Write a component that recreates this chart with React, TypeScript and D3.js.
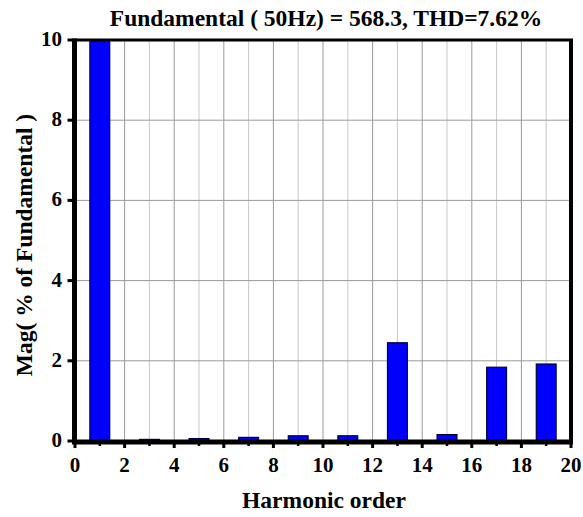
import React from "react";
import * as d3 from "d3";

const harmonics = [1, 3, 5, 7, 9, 11, 13, 15, 17, 19];
const magnitudes = [100, 0.04, 0.06, 0.09, 0.13, 0.13, 2.45, 0.16, 1.84, 1.92];
const xTicks = [0, 2, 4, 6, 8, 10, 12, 14, 16, 18, 20];
const xMinorTicks = [1, 3, 5, 7, 9, 11, 13, 15, 17, 19];
const yTicks = [0, 2, 4, 6, 8, 10];
const titleText = "Fundamental ( 50Hz) = 568.3, THD=7.62%";
const xLabel = "Harmonic order";
const yLabel = "Mag( % of Fundamental )";

export default function App() {
  const W = 583, H = 517;
  const left = 75, right = 571, top = 40, bottom = 441;
  const x = d3.scaleLinear().domain([0, 20]).range([left, right]);
  const y = d3.scaleLinear().domain([0, 10]).range([bottom, top]);
  const bw = x(0.8) - x(0);
  const font = "Liberation Serif";
  return (
    <svg width={W} height={H} style={{ position: "absolute", left: 0, top: 0, background: "#fff" }}>
      <defs>
        <clipPath id="plot">
          <rect x={left} y={top} width={right - left} height={bottom - top} />
        </clipPath>
      </defs>
      {xMinorTicks.map((t) => (
        <line key={"gm" + t} x1={x(t)} x2={x(t)} y1={top} y2={bottom} stroke="#c8c8c8" strokeWidth={1} />
      ))}
      {xTicks.slice(1, -1).map((t) => (
        <line key={"gx" + t} x1={x(t)} x2={x(t)} y1={top} y2={bottom} stroke="#9a9a9a" strokeWidth={1} />
      ))}
      {yTicks.slice(1, -1).map((t) => (
        <line key={"gy" + t} x1={left} x2={right} y1={y(t)} y2={y(t)} stroke="#9a9a9a" strokeWidth={1} />
      ))}
      <g clipPath="url(#plot)">
        {harmonics.map((h, i) => (
          <rect
            key={"b" + h}
            x={x(h) - bw / 2}
            y={y(magnitudes[i])}
            width={bw}
            height={bottom - y(magnitudes[i])}
            fill="#0000ff"
            stroke="#000040"
            strokeWidth={1.2}
          />
        ))}
      </g>
      <line x1={left} x2={right + 2} y1={top} y2={top} stroke="#000" strokeWidth={3} />
      <line x1={right} x2={right} y1={top} y2={bottom} stroke="#000" strokeWidth={4} />
      <line x1={left - 0.5} x2={left - 0.5} y1={top - 1.5} y2={bottom + 3} stroke="#000" strokeWidth={5} />
      <line x1={left - 3} x2={right + 2} y1={bottom + 1} y2={bottom + 1} stroke="#000" strokeWidth={5} />
      {xTicks.map((t) => (
        <g key={"xt" + t}>
          <line x1={x(t)} x2={x(t)} y1={bottom} y2={bottom + 7} stroke="#000" strokeWidth={3} />
          <text x={x(t)} y={472} textAnchor="middle" fontFamily={font} fontWeight="bold" fontSize={21}>
            {t}
          </text>
        </g>
      ))}
      {xMinorTicks.map((t) => (
        <line key={"xm" + t} x1={x(t)} x2={x(t)} y1={bottom} y2={bottom + 5} stroke="#000" strokeWidth={2.5} />
      ))}
      {yTicks.map((t) => (
        <g key={"yt" + t}>
          <line x1={left - 7.5} x2={left} y1={y(t)} y2={y(t)} stroke="#000" strokeWidth={3} />
          <text x={62} y={y(t) + 6} textAnchor="end" fontFamily={font} fontWeight="bold" fontSize={21}>
            {t}
          </text>
        </g>
      ))}
      <text x={326} y={26} textAnchor="middle" fontFamily={font} fontWeight="bold" fontSize={23.5}>
        {titleText}
      </text>
      <text x={324} y={508} textAnchor="middle" fontFamily={font} fontWeight="bold" fontSize={23.5}>
        {xLabel}
      </text>
      <text
        transform={`translate(31.5, 245) rotate(-90)`}
        textAnchor="middle"
        fontFamily={font}
        fontWeight="bold"
        fontSize={23.5}
      >
        {yLabel}
      </text>
    </svg>
  );
}
